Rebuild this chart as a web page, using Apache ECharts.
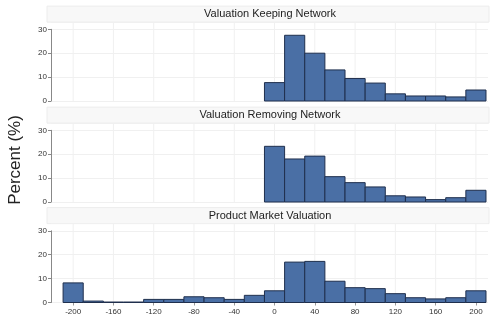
<!DOCTYPE html>
<html><head><meta charset="utf-8">
<script src="https://cdn.jsdelivr.net/npm/echarts@6/dist/echarts.min.js"></script>
<style>html,body{margin:0;padding:0;background:#fff}#c{width:490px;height:316px}</style>
</head><body><div id="c"></div>
<script>
const panelTitles = ['Valuation Keeping Network', 'Valuation Removing Network', 'Product Market Valuation'];
const bins12 = [0, 20, 40, 60, 80, 100, 120, 140, 160, 180, 200];
const bins3 = [-200, -180, -160, -140, -120, -100, -80, -60, -40, -20, 0, 20, 40, 60, 80, 100, 120, 140, 160, 180, 200];
const keeping = [7.7, 27.5, 20.0, 13.0, 9.4, 7.5, 3.0, 2.1, 2.1, 1.7, 4.6];
const removing = [23.3, 18.0, 19.2, 10.6, 8.1, 6.3, 2.6, 2.1, 1.0, 1.8, 4.9];
const product = [8.2, 0.6, 0.2, 0.2, 1.3, 1.3, 2.4, 2.0, 1.3, 3.0, 4.9, 16.9, 17.2, 8.9, 6.2, 5.8, 3.7, 2.0, 1.5, 2.0, 4.9];
const xTicks = [-200, -160, -120, -80, -40, 0, 40, 80, 120, 160, 200];
const yTicks = [0, 10, 20, 30];
const binWidth = 20;
const yTitle = 'Percent (%)';

const panelData = [
  bins12.map((b, i) => [b, keeping[i]]),
  bins12.map((b, i) => [b, removing[i]]),
  bins3.map((b, i) => [b, product[i]])
];

const X_MIN = -222, X_MAX = 212, Y_MAX = 33;
const LEFT = 51, WIDTH = 437;
const zeroY = [101, 202, 302.5];
const pxPerUnit = 2.39;
const font = 'Liberation Sans, Arial, sans-serif';

const grids = [], xAxes = [], yAxes = [], series = [], graphics = [];
for (let p = 0; p < 3; p++) {
  const hA = Y_MAX * pxPerUnit;
  const hB = 30 * pxPerUnit;
  grids.push({left: LEFT, width: WIDTH, top: zeroY[p] - hA, height: hA, containLabel: false});
  grids.push({left: LEFT, width: WIDTH, top: zeroY[p] - hB, height: hB, containLabel: false});
  const gA = p * 2, gB = p * 2 + 1;
  xAxes.push({
    type: 'value', gridIndex: gA, min: X_MIN, max: X_MAX,
    axisLine: {show: false},
    axisTick: {show: p === 2, customValues: xTicks, length: 3, lineStyle: {color: '#999'}},
    axisLabel: {show: p === 2, customValues: xTicks, fontSize: 8, color: '#333', fontFamily: font, margin: 5},
    splitLine: {show: false}
  });
  xAxes.push({type: 'value', gridIndex: gB, min: X_MIN, max: X_MAX, show: false});
  yAxes.push({
    type: 'value', gridIndex: gA, min: 0, max: Y_MAX, interval: 10,
    axisLine: {show: false}, axisTick: {show: false}, axisLabel: {show: false},
    splitLine: {show: true, lineStyle: {color: '#f0f0f0', width: 1}}
  });
  yAxes.push({
    type: 'value', gridIndex: gB, min: 0, max: 30, interval: 10,
    axisLine: {show: true, onZero: false, lineStyle: {color: '#888', width: 1}},
    axisTick: {show: true, length: 3, lineStyle: {color: '#888'}},
    axisLabel: {show: true, fontSize: 8, color: '#333', fontFamily: font, margin: 4},
    splitLine: {show: false}
  });
  // vertical gridlines at the x tick values
  series.push({
    type: 'custom', xAxisIndex: gA, yAxisIndex: gA, silent: true, z: 1,
    data: xTicks.map(t => [t]),
    renderItem: function (params, api) {
      const t = api.value(0);
      const a = api.coord([t, 0]);
      const b = api.coord([t, Y_MAX]);
      return {type: 'line', shape: {x1: a[0], y1: a[1], x2: b[0], y2: b[1]},
        style: {stroke: '#f0f0f0', lineWidth: 1}};
    },
    encode: {x: 0}
  });
  series.push({
    type: 'custom', xAxisIndex: gA, yAxisIndex: gA, z: 2,
    data: panelData[p],
    renderItem: function (params, api) {
      const c = api.value(0), v = api.value(1);
      const p0 = api.coord([c - binWidth / 2, v]);
      const p1 = api.coord([c + binWidth / 2, 0]);
      return {
        type: 'rect',
        shape: {x: p0[0], y: p0[1], width: p1[0] - p0[0], height: p1[1] - p0[1]},
        style: {fill: '#4a6fa5', stroke: '#1f2f4d', lineWidth: 1}
      };
    },
    encode: {x: 0, y: 1}
  });
  const headerBottom = zeroY[p] - hA;
  graphics.push({
    type: 'rect', z: -1, silent: true,
    shape: {x: 47, y: headerBottom - 16, width: 442, height: 16},
    style: {fill: '#f8f8f8', stroke: '#ececec', lineWidth: 1}
  });
  graphics.push({
    type: 'text', silent: true, x: 270, y: headerBottom - 8,
    style: {text: panelTitles[p], fill: '#222', font: '11px ' + font, align: 'center', verticalAlign: 'middle'}
  });
}
graphics.push({
  type: 'text', silent: true, x: 15, y: 160, rotation: Math.PI / 2,
  style: {text: yTitle, fill: '#222', font: '17px ' + font, align: 'center', verticalAlign: 'middle'}
});

const chart = echarts.init(document.getElementById('c'), null, {renderer: 'canvas'});
chart.setOption({
  animation: false,
  backgroundColor: '#fff',
  grid: grids, xAxis: xAxes, yAxis: yAxes, series: series,
  graphic: graphics
});
</script></body></html>
